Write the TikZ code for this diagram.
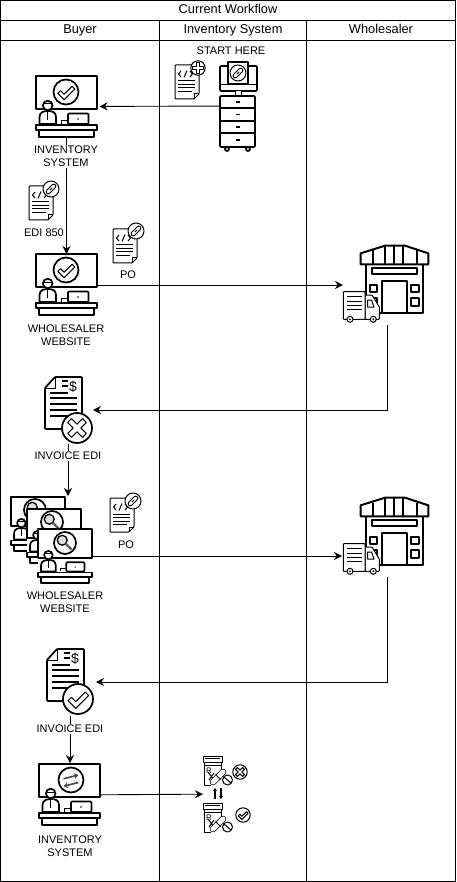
\documentclass[tikz,border=0pt]{standalone}
\usepackage{fontspec}
\setmainfont{Liberation Sans}
\usetikzlibrary{arrows.meta}

\tikzset{
	iconbox/.style 2 args={rectangle, minimum width=#1, minimum height=#2, inner sep=0pt, outer sep=0pt},
	lanetext/.style={font=\fontsize{12.8}{14}\selectfont, text height=9.5pt, text depth=2.5pt},
	icontext/.style={font=\fontsize{11}{13}\selectfont, align=center, fill=white, inner sep=1pt},
	plaintext/.style={font=\fontsize{11}{13}\selectfont, align=center, inner sep=0pt},
	iconline/.style={line width=1.7pt, line join=round},
	thinline/.style={line width=1pt, line join=round},
	badgeline/.style={thinline},
	bigbadge/.style={badgeline/.style={iconline}},
	flow/.style={-{Stealth[length=8pt,width=8pt]}, line width=0.9pt},
	okbadge/.pic={
		\draw[badgeline, fill=white] (0,0) circle (10);
		\draw[thinline, fill=white] (-4.4,-1.1) -- (-1.5,1.74) -- (4.87,-4.63) -- (7.13,-2.37) -- (-1.5,6.26) -- (-6.63,1.13) -- cycle;
	},
	crossbadge/.pic={
		\draw[badgeline, fill=white] (0,0) circle (10);
		\draw[thinline, fill=white, rotate=45] (-1.8,-7) -- (1.8,-7) -- (1.8,-1.8) -- (7,-1.8) -- (7,1.8) -- (1.8,1.8) -- (1.8,7) -- (-1.8,7) -- (-1.8,1.8) -- (-7,1.8) -- (-7,-1.8) -- (-1.8,-1.8) -- cycle;
	},
	plusbadge/.pic={
		\draw[badgeline, fill=white] (0,0) circle (10);
		\draw[thinline, fill=white] (-2,-7) -- (2,-7) -- (2,-2) -- (7,-2) -- (7,2) -- (2,2) -- (2,7) -- (-2,7) -- (-2,2) -- (-7,2) -- (-7,-2) -- (-2,-2) -- cycle;
	},
	linkbadge/.pic={
		\draw[badgeline, fill=white] (0,0) circle (10);
		\draw[line width=5pt, line cap=round] (-3.5,3.5) -- (3.5,-3.5);
		\draw[line width=3pt, line cap=round, white] (-3.5,3.5) -- (3.5,-3.5);
		\draw[line width=0.8pt] (-1.5,1.5) -- (1.5,-1.5);
	},
	lensbadge/.pic={
		\draw[iconline, fill=white] (0,0) circle (10);
		\draw[line width=1.3pt, fill=gray!25] (-2.5,-2.5) circle (4.5);
		\draw[line width=2.4pt, gray!70!black] (1,1) -- (6,6);
	},
	swapbadge/.pic={
		\draw[iconline, fill=white] (0,0) circle (10);
		\draw[-{Stealth[length=4.5pt,width=6pt]}, line width=1.6pt, gray!60!black] (-6,-1) -- (6,-4);
		\draw[-{Stealth[length=4.5pt,width=6pt]}, line width=1.6pt, gray!60!black] (6,2) -- (-6,5);
	},
	deskicon/.pic={
		\fill[white] (0,0) rectangle (61,61);
		\draw[iconline, fill=white] (0,0) rectangle (61,33);
		\draw[iconline, fill=white] (3.5,48) -- (3.5,41) .. controls (3.5,36) and (8,35) .. (12,35) .. controls (16,35) and (20,36) .. (20,41) -- (20,48) -- cycle;
		\draw[iconline, fill=white] (11.7,29.5) circle (4.8);
		\draw[thinline] (7,28) -- (16.5,28) (11.7,35) -- (11.7,44);
		\draw[iconline, fill=white, rounded corners=1pt] (32,37.5) rectangle (52.5,48);
		\draw[thinline] (25,48) -- (25,44.5) -- (32,44.5);
		\fill (42,43) circle (0.8);
		\draw[iconline, fill=white] (3,54) rectangle (58,61);
		\draw[iconline, fill=white] (0,49) rectangle (61,54);
	},
	codedoc/.pic={
		\draw[thinline, fill=white, rounded corners=0.8pt] (0,0) -- (24,0) -- (24,29) -- (19,34) -- (0,34) -- cycle;
		\draw[thinline] (19,34) -- (19,29) -- (24,29);
		\draw[thinline] (6,6) -- (3.5,9) -- (6,12) (9,12.5) -- (12,5.5) (15,6) -- (17.5,9) -- (15,12);
		\draw[thinline] (3,16) -- (20,16) (3,19.5) -- (20,19.5) (3,23) -- (20,23) (3,26.5) -- (17,26.5);
	},
	invoicedoc/.pic={
		\draw[iconline, fill=white, rounded corners=0.8pt] (0,11) -- (10,0) -- (37,0) -- (37,52) -- (0,52) -- cycle;
		\draw[thinline] (10,0) -- (10,11) -- (0,11);
		\draw (28,10) node [plaintext, font=\fontsize{14}{14}\selectfont] (-dollar) {\$};
		\draw[iconline] (17,4) -- (23,4) (17,9) -- (23,9) (5,16) -- (23,16) (5,21) -- (32,21) (5,27) -- (32,27) (5,33) -- (32,33) (5,39) -- (28,39);
	},
	serverrack/.pic={
		\draw[iconline, fill=white, rounded corners=1pt] (0,4) rectangle (37,29);
		\draw[thinline] (0,23) -- (37,23);
		\draw[thinline, fill=white] (15,29) rectangle (21,34);
		\draw[iconline, fill=white, rounded corners=1pt] (0,34) rectangle (35,85);
		\draw[iconline] (0,46) -- (35,46) (0,59) -- (35,59) (0,71) -- (35,71);
		\draw[iconline] (16,40) -- (20,40) (16,52.5) -- (20,52.5) (16,65) -- (20,65) (16,78) -- (20,78);
		\draw[iconline, fill=white] (7,87) circle (2) (28,87) circle (2);
		\draw[iconline, fill=white] (8,0) rectangle (28,22);
	},
	warehouse/.pic={
		\draw[iconline, line width=2pt, fill=white] (5.7,19.3) rectangle (63.3,68.3);
		\draw[iconline, line width=2pt, fill=white] (0.7,8.3) -- (25,0.7) -- (45,0.7) -- (68.3,8.3) -- (68.3,19.3) -- (0.7,19.3) -- cycle;
		\draw[iconline, line width=2pt] (13.3,5.5) -- (13.3,19.3) (25,0.7) -- (25,19.3) (34,0.7) -- (34,19.3) (43.3,0.7) -- (43.3,19.3) (56.7,5.5) -- (56.7,19.3);
		\draw[iconline, line width=2pt] (12.3,23.3) rectangle (57.3,28.5);
		\draw[iconline, line width=2pt] (21.7,35.7) rectangle (47.3,68.3);
		\draw[iconline, line width=2pt] (10,40) rectangle (17.3,47.3) (10,53.3) rectangle (17.3,61);
		\draw[iconline, line width=2pt] (50.7,40) rectangle (59,47.3) (50.7,53.3) rectangle (59,61);
		\draw[thinline, fill=white, rounded corners=0.6pt] (5,74.3) -- (5,50) -- (12,50) -- (19.3,62) -- (19.3,74.3) -- cycle;
		\draw[thinline] (7.5,55) -- (11.5,55) -- (14,62) -- (7.5,62) -- cycle;
		\draw[thinline, fill=white, rounded corners=0.6pt] (-16.7,46.7) rectangle (5,74.3);
		\draw[thinline] (-13,51.7) -- (1.7,51.7) (-13,56) -- (1.7,56) (-13,60.3) -- (1.7,60.3) (-13,64.3) -- (1.7,64.3);
		\draw[thinline, fill=white] (-10,74.3) circle (3) (13.3,74.3) circle (3);
		\fill (-10,74.3) circle (1) (13.3,74.3) circle (1);
	},
	pillbottle/.pic={
		\draw[thinline, fill=white] (0,0) rectangle (19,6);
		\draw[thinline] (2,2) -- (17,2);
		\draw[thinline] (1,6) -- (1,29) -- (8,29) (18,6) -- (18,14) (1,9) -- (18,9);
		\draw (6,15) node [plaintext, font=\fontsize{8}{8}\selectfont] (-rx) {R};
		\draw[thinline] (5,16) -- (11,24) (11,17) -- (6,24);
		\draw[line width=6.5pt, line cap=round] (10,26) -- (20,16);
		\draw[line width=5pt, line cap=round, white] (10,26) -- (20,16);
		\draw[thinline] (12.5,18.5) -- (17.5,23.5);
		\draw[thinline, fill=white] (24.5,24) circle (5);
		\draw[thinline] (21,21) -- (28,27);
	}
}

\begin{document}
\begin{tikzpicture}[x=1pt, y=-1pt]
	\useasboundingbox (0,0) rectangle (456,882);

	% lanes
	\draw[line width=1pt] (0.5,0.5) rectangle (455.5,881.5);
	\draw[line width=1pt] (0.5,20.5) -- (455.5,20.5) (0.5,40.5) -- (455.5,40.5);
	\draw[line width=1pt] (159.5,20.5) -- (159.5,881.5) (306.5,20.5) -- (306.5,881.5);
	\draw
	(228,10) node [lanetext] (title) {Current Workflow}
	(80,30) node [lanetext] (buyer) {Buyer}
	(233,30) node [lanetext] (inventory) {Inventory System}
	(381,30) node [lanetext] (wholesaler) {Wholesaler};

	\draw
	(238,106) node [iconbox={38}{88}] (rack) {}
	(66.5,106.5) node [iconbox={66}{62}] (deskA) {}
	(66.5,285) node [iconbox={61}{62}] (deskB) {}
	(387,285) node [iconbox={88}{80}] (storeA) {}
	(68,410) node [iconbox={50}{68}] (invoiceA) {}
	(37.5,524) node [iconbox={54}{56}] (stackA) {}
	(65,556) node [iconbox={56}{54}] (stackC) {}
	(387,537) node [iconbox={90}{80}] (storeB) {}
	(70,682) node [iconbox={52}{68}] (invoiceB) {}
	(70,795) node [iconbox={62}{64}] (deskD) {}
	(226.5,794) node [iconbox={47}{76}] (pills) {};

	\draw[flow] (rack) -- (deskA);
	\draw[flow] (deskA) -- (deskB);
	\draw[flow] (deskB) -- (storeA);
	\draw[flow] (storeA.south) |- (invoiceA.east);
	\draw[flow] (invoiceA.south) -- (invoiceA.south |- stackA.north);
	\draw[flow] (stackC) -- (stackC -| storeB.west);
	\draw[flow] (storeB.south) |- (invoiceB.east);
	\draw[flow] (invoiceB.south) -- (deskD.north);
	\draw[flow] (deskD) -- (pills);

	\draw
	(66,156.5) node [icontext] (labelA) {INVENTORY\\SYSTEM}
	(66,335.5) node [icontext] (labelB) {WHOLESALER\\WEBSITE}
	(68,456) node [icontext] (labelC) {INVOICE EDI}
	(65,602) node [icontext] (labelD) {WHOLESALER\\WEBSITE}
	(70,729) node [icontext] (labelE) {INVOICE EDI}
	(70,846.5) node [icontext] (labelF) {INVENTORY\\SYSTEM}
	(231,51) node [plaintext] (start) {START HERE}
	(44,233) node [plaintext] (edi) {EDI 850}
	(128,275) node [plaintext] (poA) {PO}
	(126,545) node [plaintext] (poB) {PO};

	\draw (220,62) pic {serverrack};
	\draw (238,73) pic [scale=0.8] {linkbadge};
	\draw (175,65) pic {codedoc};
	\draw (198,68) pic [scale=0.72] {plusbadge};

	\draw (36,76) pic {deskicon};
	\draw (66,92) pic [scale=1.25, bigbadge] {okbadge};
	\draw (29,186) pic {codedoc};
	\draw (51,189) pic [scale=0.8] {linkbadge};

	\draw (36,254) pic {deskicon};
	\draw (66,270) pic [scale=1.25, bigbadge] {okbadge};
	\draw (113,229) pic {codedoc};
	\draw (136,231) pic [scale=0.8] {linkbadge};
	\draw (360,245) pic {warehouse};

	\draw (45,377) pic (iconA) {invoicedoc};
	\draw (77,428) pic [scale=1.5, bigbadge] {crossbadge};

	\draw (11,497) pic [scale=0.885] {deskicon};
	\draw (35,510) pic [scale=1.1] {lensbadge};
	\draw (27,509) pic [scale=0.885] {deskicon};
	\draw (52,522) pic [scale=1.1] {lensbadge};
	\draw (38,529) pic [scale=0.885] {deskicon};
	\draw (65,543) pic [scale=1.1] {lensbadge};
	\draw (110,498) pic {codedoc};
	\draw (133,501) pic [scale=0.8] {linkbadge};
	\draw (360,497) pic {warehouse};

	\draw (47,649) pic (iconB) {invoicedoc};
	\draw (78,699) pic [scale=1.5, bigbadge] {okbadge};

	\draw (39,764) pic {deskicon};
	\draw (71,780) pic [scale=1.25] {swapbadge};

	\draw (203,756) pic (iconC) {pillbottle};
	\draw (240,772) pic [scale=0.72] {crossbadge};
	\draw (203,803) pic (iconD) {pillbottle};
	\draw (243,815) pic [scale=0.72] {okbadge};
	\draw[-{Stealth[length=3pt,width=4pt]}, line width=1.4pt] (215,799) -- (215,788);
	\draw[-{Stealth[length=3pt,width=4pt]}, line width=1.4pt] (221,788) -- (221,799);
\end{tikzpicture}
\end{document}
